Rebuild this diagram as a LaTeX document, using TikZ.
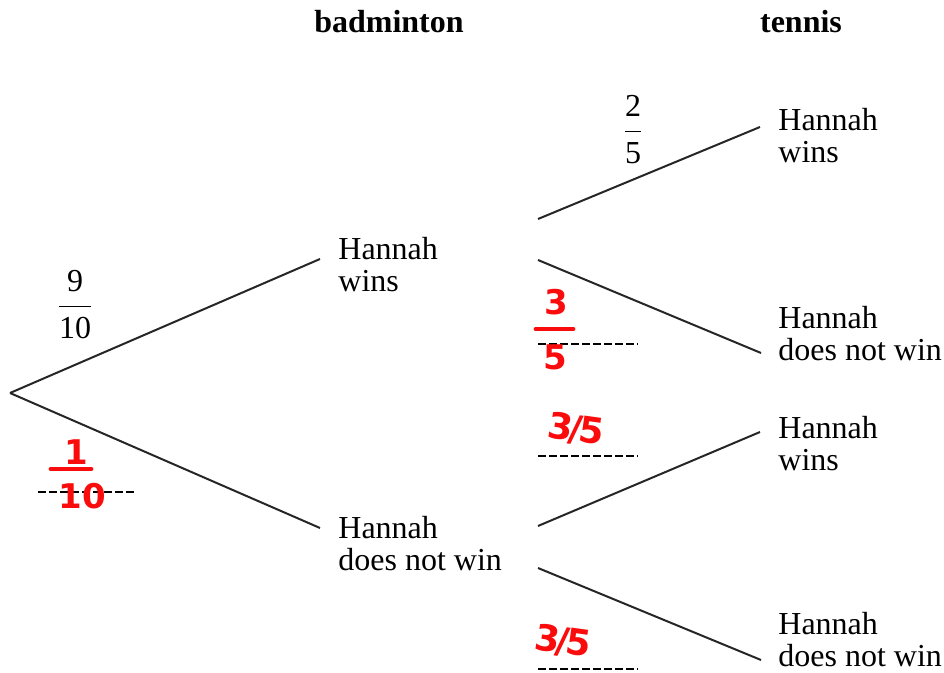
\documentclass[tikz,border=0pt]{standalone}
\usepackage{fontspec}
\setmainfont{Liberation Serif}
\newfontfamily\hand{DejaVu Sans}
\usepackage{xcolor}
\definecolor{pen}{RGB}{250,12,12}

\newcommand{\frc}[2]{$\displaystyle\frac{\mbox{#1}}{\mbox{#2}}$}

\begin{document}
\begin{tikzpicture}[x=0.5pt,y=-0.5pt,
    branch/.style={line width=1pt, black!85},
    outcome/.style={anchor=west, align=left, inner sep=0pt, font=\fontsize{16}{16}\selectfont},
    head/.style={inner sep=0pt, font=\fontsize{16}{16}\selectfont\bfseries},
    prob/.style={inner sep=0pt, font=\fontsize{16}{16}\selectfont},
    blank/.style={line width=0.8pt, dash pattern=on 4pt off 1.5pt},
    ink/.style={inner sep=0pt, text=pen, font=\hand\bfseries\fontsize{17}{17}\selectfont},
    inkbar/.style={pen, line width=2.4pt, line cap=round}]
  \useasboundingbox (0,0) rectangle (944,673);

  % headings
  \node[head] (hbad) at (389,22) {badminton};
  \node[head] (hten) at (801,22) {tennis};

  % first stage
  \coordinate (root) at (10,393);
  \node[outcome] (bw) at (338,265) {Hannah\\wins};
  \node[outcome] (bl) at (338,544) {Hannah\\does not win};
  \coordinate (bw-in) at (320,259);
  \coordinate (bl-in) at (320,528);
  \draw[branch] (root) -- (bw-in);
  \draw[branch] (root) -- (bl-in);

  % second stage
  \node[outcome] (tww) at (778,136) {Hannah\\wins};
  \node[outcome] (twl) at (778,334) {Hannah\\does not win};
  \node[outcome] (tlw) at (778,444) {Hannah\\wins};
  \node[outcome] (tll) at (778,640) {Hannah\\does not win};
  \coordinate (bw-up) at (538,219);
  \coordinate (bw-dn) at (538,260);
  \coordinate (bl-up) at (538,526);
  \coordinate (bl-dn) at (538,568);
  \coordinate (tww-in) at (760,127);
  \coordinate (twl-in) at (761,353);
  \coordinate (tlw-in) at (760,432);
  \coordinate (tll-in) at (761,660);
  \draw[branch] (bw-up) -- (tww-in);
  \draw[branch] (bw-dn) -- (twl-in);
  \draw[branch] (bl-up) -- (tlw-in);
  \draw[branch] (bl-dn) -- (tll-in);

  % printed probabilities
  \node[prob] (p1) at (75,305) {\frc{9}{10}};
  \node[prob] (p2) at (633,130) {\frc{2}{5}};

  % answer lines
  \draw[blank] (38,492) -- (135,492);
  \draw[blank] (538,344) -- (638,344);
  \draw[blank] (538,456) -- (638,456);
  \draw[blank] (538,669) -- (638,669);

  % handwritten answers
  \node[ink] (a1n) at (76,452) {1};
  \draw[inkbar] (51,469) -- (91,469);
  \node[ink] (a1d) at (82,496) {10};
  \node[ink] (a2n) at (556,302) {3};
  \draw[inkbar] (536,329) -- (573,329);
  \node[ink] (a2d) at (555,357) {5};
  \node[ink, font=\hand\bfseries\fontsize{18}{18}\selectfont, rotate=-8] (a3) at (576,430) {3\kern-.1em/\kern-.1em5};
  \node[ink, font=\hand\bfseries\fontsize{18}{18}\selectfont, rotate=-8] (a4) at (563,642) {3\kern-.1em/\kern-.1em5};
\end{tikzpicture}
\end{document}
